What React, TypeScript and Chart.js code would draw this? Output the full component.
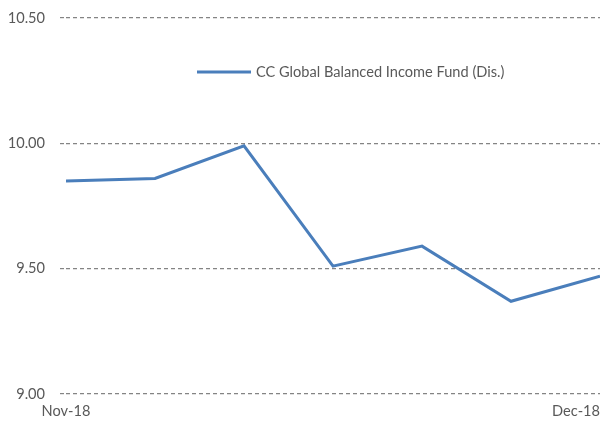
import React, { useEffect, useRef } from "react";
import { Chart, registerables } from "chart.js";

Chart.register(...registerables);

const seriesName = "CC Global Balanced Income Fund (Dis.)";
const navValues = [9.85, 9.86, 9.99, 9.51, 9.59, 9.37, 9.47];
const xTickLabels = ["Nov-18", "Dec-18"];
const xTickIndex = [0, 6];
const yMin = 9.0;
const yMax = 10.5;
const yStep = 0.5;

const FONT = "Lato";
const TEXT = "#595959";
const LINE = "#4A7EBB";
const GRID = "#848484";

const insideLegend = {
  id: "insideLegend",
  afterDatasetsDraw(chart: any) {
    const ds = chart.data.datasets[0];
    const ctx = chart.ctx;
    const x0 = 197;
    const y0 = 72;
    ctx.save();
    ctx.strokeStyle = ds.borderColor;
    ctx.lineWidth = 3;
    ctx.beginPath();
    ctx.moveTo(x0, y0);
    ctx.lineTo(x0 + 54, y0);
    ctx.stroke();
    ctx.fillStyle = TEXT;
    ctx.font = `14.6px ${FONT}`;
    ctx.textBaseline = "middle";
    ctx.textAlign = "left";
    ctx.fillText(ds.label, x0 + 59, y0);
    ctx.restore();
  },
};

export default function App() {
  const ref = useRef<HTMLCanvasElement>(null);
  useEffect(() => {
    if (!ref.current) return;
    const chart = new Chart(ref.current, {
      type: "line",
      data: {
        datasets: [
          {
            label: seriesName,
            data: navValues.map((y, i) => ({ x: i, y })),
            borderColor: LINE,
            backgroundColor: LINE,
            borderWidth: 3,
            pointRadius: 0,
            tension: 0,
            fill: false,
          },
        ],
      },
      options: {
        animation: false,
        responsive: true,
        maintainAspectRatio: false,
        layout: { padding: { top: 18, right: 0, bottom: 0, left: 0 } },
        plugins: { legend: { display: false }, tooltip: { enabled: false } },
        scales: {
          x: {
            type: "linear",
            min: xTickIndex[0],
            max: xTickIndex[xTickIndex.length - 1],
            grid: { display: false, drawTicks: false },
            border: { display: false },
            afterBuildTicks: (s: any) => {
              s.ticks = [{ value: xTickIndex[0] }, ...xTickIndex.map((v) => ({ value: v }))];
            },
            afterFit: (s: any) => {
              s.height = 29;
              s.paddingLeft = 0;
              s.paddingRight = 0;
            },
            ticks: {
              autoSkip: false,
              maxRotation: 0,
              align: "inner",
              padding: 9,
              color: TEXT,
              font: { family: FONT, size: 14.6 },
              callback: (_v: any, i: number) => (i === 0 ? "" : xTickLabels[i - 1]),
            },
          },
          y: {
            min: yMin,
            max: yMax,
            afterFit: (s: any) => {
              s.width = 66;
              s.paddingTop = 0;
              s.paddingBottom = 0;
            },
            border: { display: false, dash: [4, 3] },
            grid: {
              color: GRID,
              lineWidth: 1.2,
              drawTicks: true,
              tickLength: 6,
              tickColor: GRID,
              tickWidth: 1.2,
              tickBorderDash: [4, 3],
            },
            ticks: {
              stepSize: yStep,
              padding: 15,
              color: TEXT,
              font: { family: FONT, size: 14.6 },
              callback: (v: any) => Number(v).toFixed(2),
            },
          },
        },
      },
      plugins: [insideLegend],
    });
    return () => chart.destroy();
  }, []);
  return (
    <div style={{ position: "absolute", left: 0, top: 0, width: 600, height: 423, background: "#fff" }}>
      <canvas ref={ref} />
    </div>
  );
}
